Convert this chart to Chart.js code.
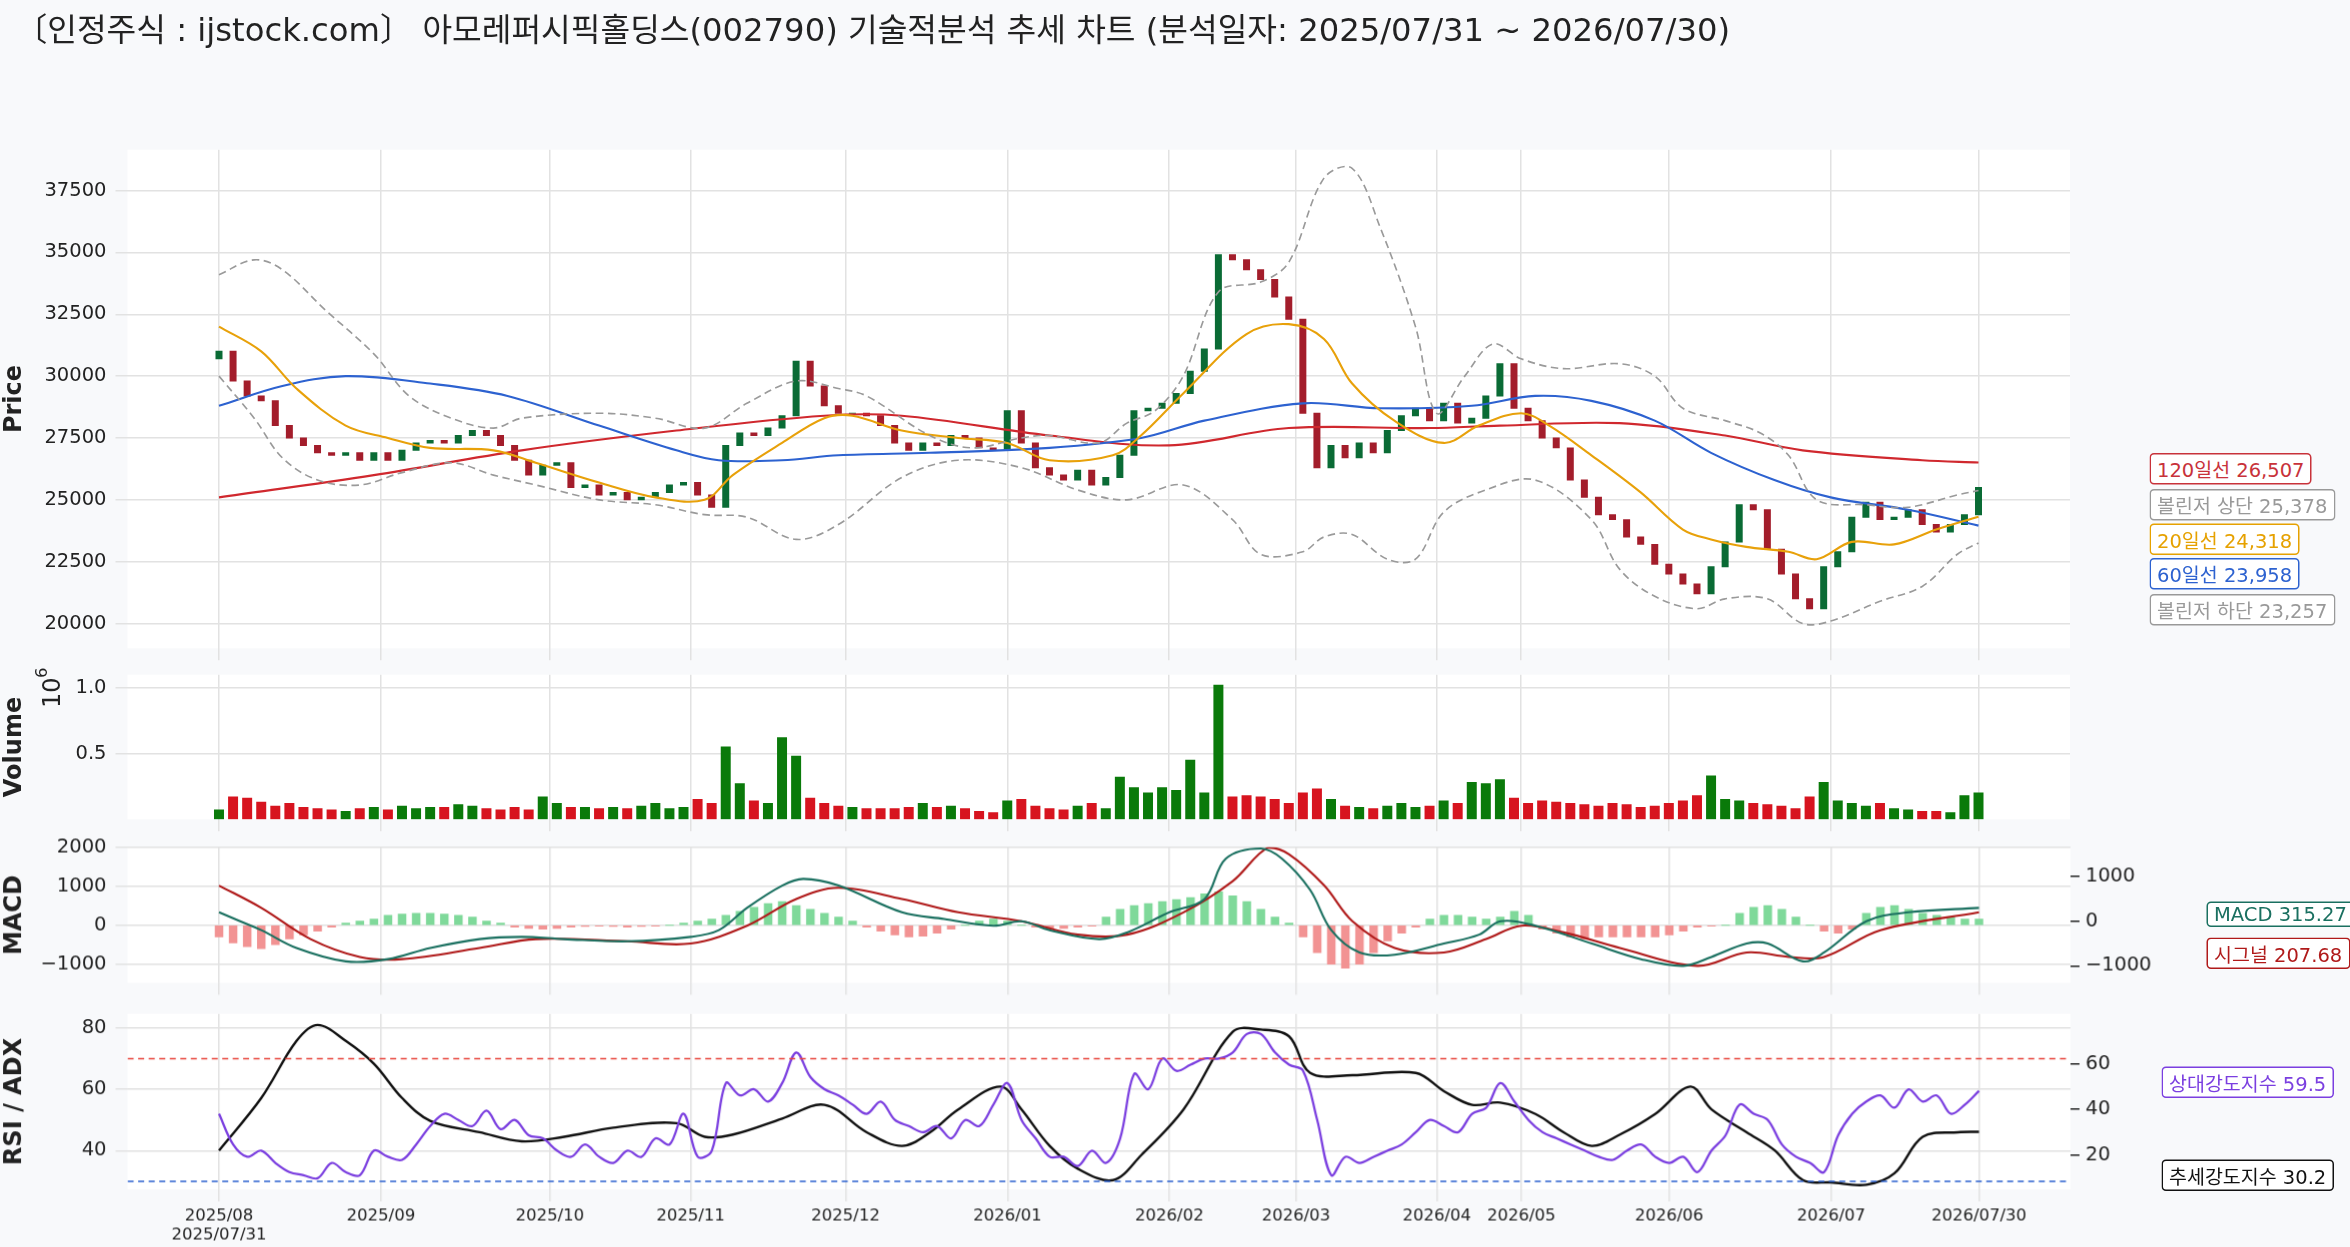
<!DOCTYPE html>
<html>
<head>
<meta charset="utf-8">
<script src="https://cdn.jsdelivr.net/npm/chart.js@4"></script>
<style>
  body { margin:0; width:2350px; height:1247px; background:#f8f9fb; font-family:"DejaVu Sans","Noto Sans CJK KR",sans-serif; overflow:hidden; }
  #wrap { position:absolute; left:0; top:0; width:1567px; height:832px; transform:scale(1.5); transform-origin:0 0; }
  .title { position:absolute; left:10px; top:2px; font-size:21.5px; color:#222; white-space:nowrap; }
  .pane { position:absolute; left:0; width:1445px; }
  .tag { position:absolute; font-size:13px; padding:0 4px; border:1.2px solid; border-radius:3px; background:#fff; white-space:nowrap; }
</style>
</head>
<body>
<div id="wrap">
<div class="title">〔인정주식 : ijstock.com〕 아모레퍼시픽홀딩스(002790) 기술적분석 추세 차트 (분석일자: 2025/07/31 ~ 2026/07/30)</div>
<div class="pane" style="top:86px;height:360px"><canvas id="price"></canvas></div>
<div class="pane" style="top:436px;height:124px"><canvas id="volume"></canvas></div>
<div class="pane" style="top:551px;height:118px"><canvas id="macd"></canvas></div>
<div class="pane" style="top:662px;height:171px"><canvas id="rsi"></canvas></div>

<div class="tag" style="left:1433px;top:302px;color:#c8323a;border-color:#c8323a">120일선 26,507</div>
<div class="tag" style="left:1433px;top:326px;color:#999;border-color:#999">볼린저 상단 25,378</div>
<div class="tag" style="left:1433px;top:349px;color:#e6a100;border-color:#e6a100">20일선 24,318</div>
<div class="tag" style="left:1433px;top:372px;color:#2d62d0;border-color:#2d62d0">60일선 23,958</div>
<div class="tag" style="left:1433px;top:396px;color:#999;border-color:#999">볼린저 하단 23,257</div>
<div class="tag" style="left:1471px;top:601px;color:#1a7060;border-color:#1a7060">MACD 315.27</div>
<div class="tag" style="left:1471px;top:625px;color:#b01a1a;border-color:#b01a1a">시그널 207.68</div>
<div class="tag" style="left:1441px;top:711px;color:#7b3fe0;border-color:#7b3fe0">상대강도지수 59.5</div>
<div class="tag" style="left:1441px;top:773px;color:#111;border-color:#111">추세강도지수 30.2</div>
</div>

<script>
'use strict';
Chart.defaults.font.family = '"DejaVu Sans","Noto Sans CJK KR",sans-serif';
Chart.defaults.font.size = 13;
Chart.defaults.color = '#222';
Chart.defaults.animation = false;

// ---- data: one candle per two trading days, day index = 2*i
const closes = [31000,29800,29200,29000,28000,27500,27200,26900,26800,26900,26600,26900,26600,27000,27300,27400,27300,27600,27800,27600,
  27200,26600,26000,26400,26500,25500,25600,25200,25300,25000,25100,25300,25600,25700,25200,24700,27200,27700,27600,27900,
  28400,30600,29600,28800,28500,28500,28400,28000,27300,27000,27300,27200,27600,27500,27100,27000,28600,27300,26300,26000,
  25800,26200,25600,25900,26800,28600,28700,28900,29300,30200,31100,34900,34700,34300,33900,33200,32300,28500,26300,27200,
  26700,27300,26900,27800,28400,28700,28200,28900,28100,28300,29200,30500,28700,28200,27500,27100,25800,25100,24400,24200,
  23500,23200,22400,22000,21600,21200,22300,23300,24800,24600,23000,22000,21000,20600,22300,22900,24300,24900,24200,24300,
  24600,24000,23700,24000,24400,25500];
const firstOpen = 30700;
const volumes = [0.07,0.17,0.16,0.13,0.10,0.12,0.09,0.08,0.07,0.06,0.08,0.09,0.07,0.10,0.08,0.09,0.09,0.11,0.10,0.08,
  0.07,0.09,0.07,0.17,0.12,0.09,0.09,0.08,0.09,0.08,0.10,0.12,0.08,0.09,0.15,0.12,0.55,0.27,0.14,0.12,
  0.62,0.48,0.16,0.12,0.10,0.09,0.08,0.08,0.08,0.09,0.12,0.09,0.10,0.08,0.06,0.05,0.14,0.15,0.10,0.08,
  0.07,0.10,0.12,0.08,0.32,0.24,0.20,0.24,0.22,0.45,0.20,1.02,0.17,0.18,0.17,0.15,0.12,0.20,0.23,0.15,
  0.10,0.09,0.08,0.10,0.12,0.09,0.10,0.14,0.12,0.28,0.27,0.30,0.16,0.12,0.14,0.13,0.12,0.11,0.10,0.12,
  0.11,0.09,0.10,0.12,0.14,0.18,0.33,0.15,0.14,0.12,0.11,0.10,0.08,0.17,0.28,0.14,0.12,0.10,0.12,0.08,
  0.07,0.06,0.06,0.05,0.18,0.20];
const macdHist = [-300,-450,-550,-600,-500,-350,-250,-150,-50,
  50,100,150,250,280,300,300,280,250,200,100,50,
  -50,-80,-100,-80,-50,-30,-20,-30,-50,-30,-20,0,50,100,150,
  250,350,450,550,600,500,400,300,200,100,
  -50,-150,-250,-300,-280,-200,-100,0,100,150,100,0,-50,-100,-80,-50,-20,
  200,400,500,550,600,650,700,800,850,750,600,400,200,50,
  -300,-700,-1000,-1100,-1000,-700,-400,-200,-50,
  150,250,250,200,150,200,350,250,
  -100,-200,-300,-350,-300,-300,-300,-300,-300,-250,-150,-50,-20,0,
  300,450,500,400,200,0,
  -150,-200,-100,
  300,450,500,400,300,250,200,150,150];
const rsiValues = [52,42,38,40,36,33,32,31,36,33,32,40,38,37,42,48,52,50,48,53,47,50,45,44,40,38,42,38,36,40,38,44,42,52,38,40,
  62,58,60,56,62,72,64,60,58,55,52,56,50,48,46,48,44,50,48,55,62,50,44,38,38,35,40,36,44,65,60,70,66,68,70,70,72,78,78,72,
  68,66,50,32,38,36,38,40,42,46,50,48,46,52,54,62,56,50,46,44,42,40,38,37,40,42,38,36,38,33,40,45,55,52,50,42,38,36,33,45,
  52,56,58,54,60,56,58,52,55,59.5];

// line keypoints: [day index, value]
const ma20 = [[0,32000],[6,31000],[11,29500],[18,28000],[24,27500],[30,27100],[39,27000],[45,26500],[54,25700],[62,25100],[69,25000],
  [73,26000],[80,27300],[86,28300],[90,28400],[97,27800],[105,27500],[112,27300],[118,26600],[127,26800],[131,27600],[137,29300],
  [146,31700],[152,32100],[157,31500],[161,29700],[167,28200],[174,27300],[179,28000],[185,28500],[189,28000],[195,26800],
  [202,25300],[208,23800],[212,23400],[217,23100],[223,22900],[227,22600],[232,23300],[238,23200],[244,23800],[250,24318]];
const ma60 = [[0,28800],[9,29600],[18,30000],[30,29700],[41,29200],[54,28000],[65,27000],[71,26600],[80,26600],[88,26800],[101,26900],
  [118,27100],[131,27500],[140,28200],[154,28900],[165,28700],[178,28800],[187,29200],[195,29000],[204,28200],[212,26900],
  [221,25800],[229,25100],[240,24600],[250,23958]];
const ma120 = [[0,25100],[22,26000],[43,27000],[65,27800],[86,28400],[97,28400],[118,27600],[135,27200],[152,27900],[172,27900],
  [182,28000],[199,28100],[214,27600],[225,27000],[242,26600],[250,26507]];
const bbUpper = [[0,34100],[5,34700],[9,34300],[15,32700],[22,30900],[27,29200],[33,28300],[39,27900],[43,28300],[54,28500],
  [62,28300],[69,27900],[75,28900],[82,29800],[88,29500],[92,29200],[101,27600],[107,27100],[114,27500],[118,27600],[125,27300],
  [129,28100],[133,28600],[137,30000],[142,33400],[148,33800],[152,34600],[157,38000],[161,38400],[165,36000],[170,32000],
  [173,28500],[177,30000],[181,31300],[185,30700],[191,30300],[199,30500],[204,30000],[208,28700],[214,28200],[219,27700],
  [223,26800],[227,25000],[234,24800],[240,24700],[247,25200],[250,25378]];
const bbLower = [[0,30000],[5,28300],[9,26700],[14,25800],[20,25600],[26,26100],[33,26500],[39,26000],[45,25600],[54,25000],
  [62,24800],[69,24400],[75,24300],[82,23400],[88,24000],[97,25900],[105,26600],[114,26300],[122,25400],[129,25000],[137,25600],
  [144,24200],[148,22800],[154,22900],[157,23500],[161,23600],[166,22600],[170,22600],[174,24500],[180,25400],[187,25800],
  [195,24200],[199,22200],[204,21100],[210,20600],[214,21000],[220,21000],[225,20000],[229,20100],[236,20900],[242,21500],
  [247,22800],[250,23257]];
const macdLine = [[0,200],[3,0],[6,-200],[11,-600],[18,-900],[24,-850],[30,-600],[37,-400],[43,-350],[49,-400],[58,-450],[67,-350],
  [71,-200],[75,300],[80,800],[83,950],[88,800],[97,200],[103,50],[110,-100],[114,0],[118,-200],[125,-400],[129,-250],[135,200],
  [140,500],[143,1400],[148,1630],[151,1400],[155,700],[158,-200],[162,-700],[167,-750],[174,-500],[179,-300],[182,0],[187,-100],
  [195,-500],[202,-850],[208,-1000],[212,-800],[217,-500],[220,-500],[225,-900],[228,-700],[234,0],[240,200],[250,300]];
const signalLine = [[0,800],[6,300],[13,-400],[20,-800],[26,-850],[37,-600],[45,-400],[58,-450],[67,-500],[75,-100],[82,500],
  [88,750],[97,500],[105,200],[114,0],[122,-300],[129,-300],[137,200],[144,900],[149,1650],[152,1500],[157,800],[161,0],
  [167,-600],[174,-700],[180,-400],[185,-100],[191,-250],[199,-600],[210,-1000],[217,-700],[223,-800],[228,-800],[236,-200],[250,200]];
const adxLine = [[0,22],[6,45],[11,70],[14,77],[18,70],[22,60],[26,45],[30,35],[37,30],[43,26],[49,28],[56,32],[65,34],[69,28],
  [73,29],[80,36],[86,42],[92,30],[97,24],[101,30],[105,40],[111,50],[114,40],[118,24],[122,14],[127,9],[131,20],[137,40],
  [144,74],[148,75],[152,72],[155,56],[161,55],[170,56],[174,48],[178,42],[182,43],[187,38],[191,30],[195,24],[199,29],
  [204,38],[209,50],[212,40],[217,30],[221,22],[225,9],[229,8],[234,7],[238,12],[242,28],[247,30],[250,30.2]];

const tickDays = [0,23,47,67,89,112,135,153,173,185,206,229,250];
const tickLabels = ['2025/08','2025/09','2025/10','2025/11','2025/12','2026/01','2026/02','2026/03','2026/04','2026/05','2026/06','2026/07','2026/07/30'];
const priceTicks = [20000,22500,25000,27500,30000,32500,35000,37500];
const volumeTicks = [0.5,1.0];
const macdTicks = [-1000,0,1000,2000];
const macdRightTicks = [-1000,0,1000];
const rsiTicks = [40,60,80];
const adxTicks = [20,40,60];

// ---- build datasets
const opens = closes.map((c, i) => i === 0 ? firstOpen : closes[i - 1]);
const up = closes.map((c, i) => c >= opens[i]);
const candles = closes.map((c, i) => ({ x: i * 2, y: [opens[i], c] }));
const volBars = volumes.map((v, i) => ({ x: i * 2, y: v }));
const histBars = macdHist.map((v, i) => ({ x: i * 2, y: v }));
const rsiPts = rsiValues.map((v, i) => ({ x: i * 2, y: v }));
const pts = arr => arr.map(p => ({ x: p[0], y: p[1] }));

const GRID = { color: '#e2e2e2', borderDash: [2, 2], offset: false };
const LEFT_W = 85, RIGHT_W = 65, DPR = 1.5;
const setTicks = list => ax => { ax.ticks = list.map(v => ({ value: v })); };
const minus = v => v < 0 ? '\u2212' + Math.abs(v) : v;

function xAxis(showLabels) {
  return {
    type: 'linear', min: -13, max: 263, offset: false,
    grid: GRID, border: { display: false },
    afterBuildTicks: setTicks(tickDays),
    ticks: {
      display: showLabels, autoSkip: false, maxRotation: 0, font: { size: 11 },
      callback: (v, i) => v === 0 ? ['2025/08', '2025/07/31'] : tickLabels[i]
    }
  };
}
function yLeft(title, min, max, ticks, fmt) {
  return {
    position: 'left', min: min, max: max, grid: GRID, border: { display: false },
    title: { display: true, text: title, font: { size: 16, weight: 'bold' }, padding: 0 },
    afterBuildTicks: setTicks(ticks),
    ticks: { callback: fmt || (v => v), padding: 6 },
    afterFit: ax => { ax.width = LEFT_W; }
  };
}
function yRight(min, max, ticks) {
  return {
    position: 'right', min: min, max: max, border: { display: false },
    grid: { drawOnChartArea: false, tickLength: 6, color: '#222' },
    afterBuildTicks: setTicks(ticks),
    ticks: { padding: 4, callback: minus },
    afterFit: ax => { ax.width = RIGHT_W; }
  };
}
const line = (data, color, axis, dash, width) => ({
  type: 'line', data: data, borderColor: color, borderWidth: width || 1.4, borderDash: dash || [],
  pointRadius: 0, tension: 0.35, yAxisID: axis || 'y', order: 0
});
const plotBg = {
  id: 'plotBg',
  beforeDraw: c => {
    const a = c.chartArea, ctx = c.ctx;
    ctx.save(); ctx.fillStyle = '#ffffff'; ctx.fillRect(a.left, a.top, a.right - a.left, a.bottom - a.top); ctx.restore();
  }
};
const baseOptions = (scales, padRight) => ({
  responsive: true, maintainAspectRatio: false, devicePixelRatio: DPR,
  layout: { padding: { right: padRight || 0, top: 0, bottom: 0 } },
  plugins: { legend: { display: false }, tooltip: { enabled: false } },
  scales: scales
});

// Price
new Chart(document.getElementById('price'), {
  type: 'bar',
  data: { datasets: [
    { data: candles, backgroundColor: up.map(u => u ? '#0a6b35' : '#a31d2b'), barThickness: 4, order: 1 },
    line(pts(bbUpper), '#9a9a9a', 'y', [5, 3], 1.1),
    line(pts(bbLower), '#9a9a9a', 'y', [5, 3], 1.1),
    line(pts(ma20), '#e8a10a'),
    line(pts(ma60), '#2d62d0'),
    line(pts(ma120), '#d0282e')
  ] },
  options: baseOptions({
    x: xAxis(false),
    y: yLeft('Price', 19000, 39150, priceTicks)
  }, RIGHT_W),
  plugins: [plotBg]
});

// Volume
new Chart(document.getElementById('volume'), {
  type: 'bar',
  data: { datasets: [
    { data: volBars, backgroundColor: up.map(u => u ? '#0a7a0a' : '#d7141f'), barThickness: 6 }
  ] },
  options: baseOptions({
    x: xAxis(false),
    y: yLeft('Volume', 0, 1.1, volumeTicks, v => v.toFixed(1))
  }, RIGHT_W),
  plugins: [plotBg, {
    id: 'exp',
    afterDraw: c => {
      const ctx = c.ctx;
      ctx.save(); ctx.translate(40, 36); ctx.rotate(-Math.PI / 2); ctx.fillStyle = '#222';
      ctx.font = '16px "DejaVu Sans"'; ctx.fillText('10', 0, 0);
      ctx.font = '11px "DejaVu Sans"'; ctx.fillText('6', 20, -9);
      ctx.restore();
    }
  }]
});

// MACD
new Chart(document.getElementById('macd'), {
  type: 'bar',
  data: { datasets: [
    { data: histBars, backgroundColor: macdHist.map(v => v >= 0 ? '#7fd99a' : '#f29393'), barThickness: 5, order: 1 },
    line(pts(macdLine), '#1a7060', 'y2'),
    line(pts(signalLine), '#b01a1a', 'y2')
  ] },
  options: baseOptions({
    x: xAxis(false),
    y: yLeft('MACD', -1480, 2000, macdTicks, minus),
    y2: yRight(-1380, 1660, macdRightTicks)
  }),
  plugins: [plotBg]
});

// RSI / ADX
new Chart(document.getElementById('rsi'), {
  type: 'line',
  data: { datasets: [
    line([{ x: -13, y: 70 }, { x: 263, y: 70 }], '#e8453c', 'y', [4, 3], 1),
    line([{ x: -13, y: 30 }, { x: 263, y: 30 }], '#2d62d0', 'y', [4, 3], 1),
    line(rsiPts, '#7b3fe0', 'y', [], 1.5),
    line(pts(adxLine), '#111', 'y2', [], 1.6)
  ] },
  options: baseOptions({
    x: xAxis(true),
    y: yLeft('RSI / ADX', 27.4, 84.6, rsiTicks),
    y2: yRight(5, 81.9, adxTicks)
  }),
  plugins: [plotBg]
});
</script>
</body>
</html>
